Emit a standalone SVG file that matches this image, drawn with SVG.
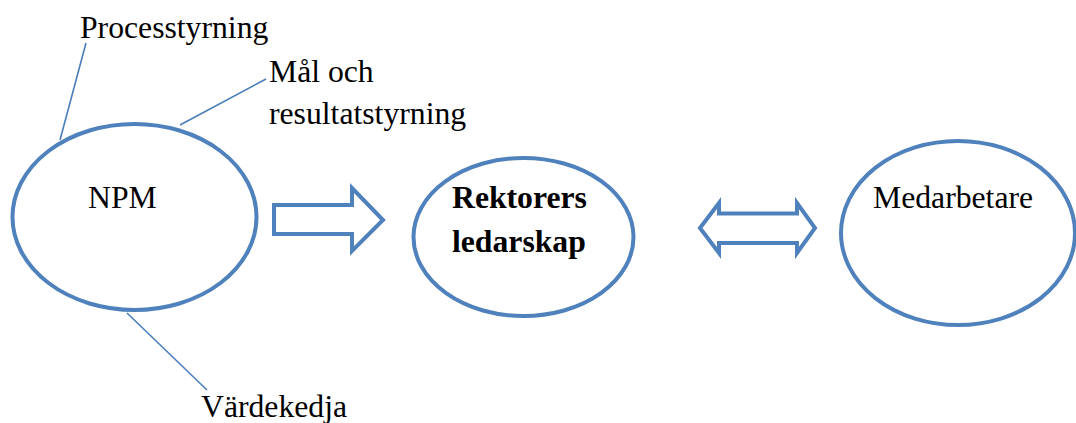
<svg xmlns="http://www.w3.org/2000/svg" width="1076" height="423" viewBox="0 0 1076 423">
<style>
.node{fill:#fff;stroke:#4F81BD;stroke-width:4}
.arrow{fill:#fff;stroke:#4F81BD;stroke-width:4;stroke-linejoin:miter}
.lead{stroke:#4A7EBB;stroke-width:1.6;fill:none}
.t{font-family:'Liberation Serif','Times New Roman',serif;font-size:31.7px;fill:#000}
.b{font-weight:bold}
</style>
<rect width="1076" height="423" fill="#fff"/>
<g id="connectors">
<line class="lead" x1="86" y1="43" x2="60" y2="140"/>
<line class="lead" x1="266" y1="79" x2="180" y2="125"/>
<line class="lead" x1="127" y1="313" x2="207" y2="390"/>
<path class="arrow" d="M274,205 H352 V188 L383,220 L352,251 V234 H274 Z"/>
<path class="arrow" d="M700,228 L719,203 V213.5 H797 V203 L815,228 L797,253 V243 H719 V253 Z"/>
</g>
<g id="npm">
<ellipse class="node" cx="134.5" cy="217" rx="122" ry="93"/>
<text class="t" x="88" y="208">NPM</text>
</g>
<g id="rektorers">
<ellipse class="node" cx="523.5" cy="237" rx="110" ry="79"/>
<text class="t b" x="452" y="208">Rektorers</text>
<text class="t b" x="452" y="252">ledarskap</text>
</g>
<g id="medarbetare">
<ellipse class="node" cx="958" cy="233" rx="117" ry="92"/>
<text class="t" x="873" y="208">Medarbetare</text>
</g>
<g id="processtyrning">
<text class="t" x="80" y="38">Processtyrning</text>
</g>
<g id="mal">
<text class="t" x="269" y="82">Mål och</text>
<text class="t" x="269" y="124">resultatstyrning</text>
</g>
<g id="vardekedja">
<text class="t" x="201" y="417">Värdekedja</text>
</g>
</svg>
